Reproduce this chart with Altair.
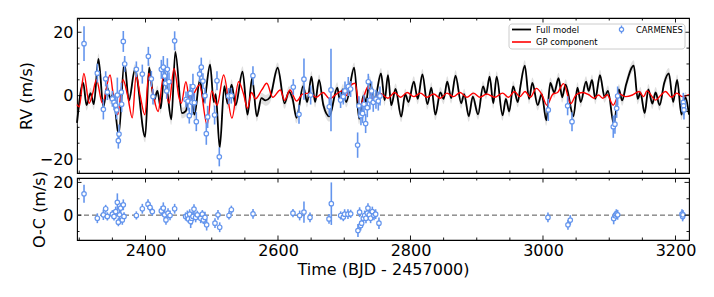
import altair as alt
import pandas as pd

# ---------------- data ----------------
# Full model (black) – extrema
black_t = [2296.6, 2306, 2311, 2317, 2322, 2329, 2336.5, 2342, 2347, 2351, 2359.5, 2368, 2375, 2384,
           2399.5, 2405.5, 2413, 2418, 2423, 2428.5, 2433, 2439, 2445, 2455, 2461, 2467, 2474, 2482,
           2488, 2497.5, 2503, 2506, 2512, 2519, 2524, 2530, 2536, 2546.5, 2554, 2561, 2568, 2575,
           2581, 2588, 2599.5, 2610, 2616.5, 2622, 2628, 2638, 2644, 2650.5, 2656, 2662, 2668.5,
           2677.5, 2689.5, 2693, 2698, 2703, 2715, 2722.5, 2729, 2733, 2738, 2746, 2755.5, 2761,
           2766, 2771, 2777.5, 2786, 2792, 2797, 2805, 2811, 2818, 2825.5, 2831.5, 2837.5, 2845,
           2850, 2855.5, 2861.5, 2868, 2876.5, 2881, 2888, 2894, 2902, 2909.5, 2914, 2919.5, 2925,
           2930, 2939, 2944, 2949, 2955, 2962, 2966, 2972.5, 2979, 2984, 2992, 2998, 3005, 3011,
           3017, 3023.5, 3029, 3034, 3046, 3052, 3057, 3065, 3069, 3074, 3079, 3086, 3093, 3098,
           3107, 3114.5, 3119.5, 3125.5, 3137, 3143, 3147, 3153.5, 3159, 3165, 3170, 3176, 3183,
           3190, 3196.5, 3202.5, 3209, 3215, 3220.4]
black_v = [-8.6, 4.0, -3.0, 0.8, -2.7, 11.6, -3.5, 2.6, -1.0, 0.5, -12.5, 10.5, -1.5, 8.2,
           -13.0, 8.8, -1.5, 1.5, -4.0, 7.5, 1.0, -7.5, 13.8, -5.5, -4.8, 1.5, -6.0, 5.0,
           -2.0, 9.8, -2.0, 0.5, -16.4, 3.0, -2.5, 3.5, -3.0, 7.6, -6.0, 5.5, -6.5, -0.8,
           -1.5, -0.5, 8.8, -2.4, 1.3, -1.0, -7.0, 3.0, -2.0, 6.0, -2.0, 5.0, -3.0,
           -6.5, 2.5, -1.0, 2.0, -2.0, 8.8, -7.3, 0.0, -2.0, 4.5, -1.0, 7.0, -1.5,
           6.5, -3.0, 2.1, -6.6, 0.5, -2.0, 4.4, -1.0, 6.7, -2.7, 2.5, -6.0, 1.0,
           -1.0, 4.4, -0.8, 6.3, -2.4, 0.5, -6.5, -0.3, -5.9, 2.9, 0.5, 6.0, -2.4,
           6.0, -6.2, -1.0, -5.0, 2.9, -2.0, 3.0, 9.5, -1.0, 4.0, -3.0, 0.5, -7.8, 4.0,
           1.0, 5.5, -0.5, 3.5, -6.5, 2.5, -2.0, 4.4, 1.5, 5.0, -1.0, 6.5, -0.5, 1.5,
           -9.0, 2.0, -1.5, 3.5, 9.5, -1.0, 1.0, -5.5, 2.0, -2.5, 1.0, -3.0, 4.0,
           7.0, -2.0, 5.0, -6.0, -0.5, -6.0]
band_half = 1.7  # half width of the grey uncertainty band (m/s)

# GP component (red)
red_t = [2296.6, 2300, 2307, 2315, 2320, 2326, 2335, 2346.5, 2352, 2358, 2366, 2373, 2380, 2386,
         2392, 2399, 2405, 2411, 2419, 2427, 2435.5, 2443, 2451, 2454, 2461, 2467, 2474, 2481.5,
         2493, 2500, 2508, 2518, 2530.5, 2540.5, 2548, 2554, 2560, 2566, 2575.5, 2583, 2592,
         2603.5, 2610, 2618, 2628, 2637, 2648, 2658, 2668, 2678, 2688, 2697, 2703, 2708.5, 2716,
         2723.5, 2730, 2736, 2744, 2754, 2766, 2776, 2785, 2795, 2805, 2815, 2825, 2835, 2845,
         2855, 2865, 2875, 2885, 2895, 2905, 2915, 2927, 2939, 2948, 2957, 2965, 2973, 2981,
         2990, 2998, 3006, 3015, 3022, 3031, 3042, 3050, 3060, 3069, 3077, 3084, 3090, 3097,
         3106, 3115, 3125, 3135, 3145, 3152, 3157, 3170, 3177, 3185, 3194, 3202, 3210, 3220.4]
red_v = [-2.8, -3.5, 7.0, -2.4, 0.5, 5.0, -2.4, 6.5, -1.0, -6.0, 5.0, 0.0, -7.0, 6.5,
         0.0, -6.0, 7.0, 1.0, -5.0, 6.0, -2.4, 8.6, -1.0, -2.4, 4.4, -1.9, 1.0, 3.4,
         -9.3, 1.5, -3.0, 6.5, -7.1, 4.4, 0.5, -4.0, 1.0, -1.0, 1.8, 3.9, -0.5,
         1.8, -1.5, 1.8, -1.7, 0.5, 0.8, -0.5, 1.0, -1.0, 0.5, 1.5, 0.0, 2.9, 3.9,
         -3.5, 0.0, 2.9, -1.5, 0.8, -0.8, 1.0, -0.5, 1.0, -0.3, 0.8, -0.5, 0.5, -0.8,
         0.8, -0.3, 1.0, -0.5, 0.8, -0.5, 0.5, -0.5, 0.8, -0.5, 1.3, -0.3, 1.3, -0.5,
         2.3, 0.5, -3.0, 0.5, 1.0, 3.8, -2.5, 0.3, 1.0, 0.3, -0.8, 0.2, -0.8, 0.3,
         -3.0, 0.5, -0.3, 0.2, 1.3, -0.3, 1.5, -1.4, 0.0, 1.3, -0.5, 0.8, -0.3, 0.3]

# CARMENES RVs (top panel)
rv_t = [2307.2, 2327.3, 2336.4, 2339.9, 2342.4, 2350.0, 2352.5, 2355.0, 2356.5, 2357.5, 2359.0,
        2360.0, 2363.5, 2364.0, 2366.5, 2368.6, 2386.2, 2395.2, 2404.3, 2408.8, 2411.3, 2423.9,
        2426.9, 2428.9, 2430.4, 2432.0, 2433.0, 2435.5, 2444.0, 2461.1, 2464.1, 2466.1, 2467.6,
        2470.1, 2471.6, 2473.7, 2476.7, 2481.7, 2484.2, 2486.7, 2489.8, 2491.8, 2493.8, 2504.3,
        2507.9, 2511.4, 2525.5, 2529.5, 2562.2, 2623.1, 2631.7, 2639.2, 2649.3, 2677.4, 2680.0,
        2694.5, 2698.6, 2701.1, 2706.1, 2709.6, 2720.2, 2722.2, 2725.2, 2727.7, 2729.8, 2732.3,
        2734.8, 2736.3, 2738.8, 2741.3, 2743.8, 2747.9, 2751.4, 2753.9, 3008.0, 3037.2, 3043.8,
        3106.1, 3108.6, 3111.2, 3112.7, 3211.8, 3212.3, 3212.8]
rv_v = [16.4, 7.1, -4.3, 5.3, 1.1, -1.0, -2.1, -3.0, -4.5, 0.2, -14.2,
        -12.1, 1.1, -2.7, 17.1, 10.0, 8.3, 6.8, 12.4, 5.3, -0.3, 8.3,
        9.0, 6.2, 3.9, 1.5, 8.3, 4.4, 17.3, -1.2, -1.7, -6.3, 0.7,
        -2.1, 2.9, -2.2, -8.2, 6.8, 9.0, 4.6, 0.0, -12.0, -6.7, -6.1,
        4.7, -19.3, -0.1, 0.0, 6.3, 2.7, -5.9, 5.2, 0.2, -3.5, 1.8,
        -1.4, -0.3, 1.5, 2.9, 2.1, -15.6, -3.2, -6.3, -5.6, -2.7, -8.8,
        -3.8, 4.4, -1.4, 1.5, -2.1, -1.1, -1.7, -0.1, -4.5, -3.2, -8.2,
        -9.8, -9.0, -4.0, -0.1, -2.1, -3.2, -4.5]
rv_e = [5.5, 3.0, 3.2, 2.4, 2.5, 2.5, 2.5, 3.0, 3.0, 5.5, 2.5,
        3.0, 3.0, 2.5, 3.3, 2.5, 2.5, 3.0, 3.0, 2.5, 2.5, 3.0,
        3.5, 3.0, 3.0, 2.5, 3.5, 3.0, 3.0, 2.5, 3.0, 2.5, 3.0,
        4.0, 4.0, 3.0, 3.0, 2.5, 3.0, 2.5, 2.5, 3.5, 3.5, 3.0,
        3.0, 3.0, 2.5, 2.5, 3.0, 2.5, 3.0, 6.5, 3.0, 3.0, 13.0,
        2.5, 2.5, 3.0, 3.0, 2.5, 4.0, 3.0, 3.0, 3.0, 3.0, 3.0,
        3.0, 2.5, 3.0, 3.0, 3.0, 3.0, 3.0, 3.0, 3.5, 3.0, 3.0,
        3.5, 3.0, 3.0, 3.0, 3.0, 3.0, 3.0]

# Residuals O-C (bottom panel)
res_t = [2307.2, 2327.3, 2336.4, 2339.9, 2342.4, 2350.0, 2352.5, 2355.0, 2357.5, 2359.0, 2361.0,
         2362.5, 2364.0, 2365.0, 2366.5, 2367.6, 2386.2, 2395.2, 2403.8, 2406.8, 2410.3, 2423.9,
         2426.9, 2428.9, 2430.9, 2434.0, 2437.0, 2444.0, 2460.6, 2463.2, 2464.7, 2466.7, 2468.2,
         2469.7, 2471.7, 2473.2, 2475.7, 2478.2, 2483.3, 2485.8, 2487.3, 2489.8, 2492.3, 2504.9,
         2509.4, 2512.0, 2526.0, 2529.6, 2562.3, 2622.6, 2632.7, 2639.2, 2648.3, 2677.0, 2680.5,
         2694.6, 2698.6, 2700.6, 2705.6, 2709.7, 2720.7, 2723.2, 2724.8, 2726.3, 2728.8, 2730.8,
         2732.8, 2734.8, 2735.8, 2737.8, 2739.8, 2742.4, 2744.9, 2747.4, 2752.4, 3007.5, 3037.7,
         3041.2, 3106.7, 3109.2, 3110.7, 3112.7, 3209.8, 3210.8, 3211.3]
res_v = [13.0, -1.9, 0.2, 3.9, -0.8, 0.6, -0.8, 2.2, 7.8, -4.3, 0.2,
         4.3, -1.9, -2.9, 6.3, -0.8, -0.2, 3.9, 6.7, 4.7, 2.2, 2.6,
         4.3, 0.2, -2.9, 1.2, -0.2, 3.9, -0.8, -0.2, -2.3, 0.6, -3.9,
         -1.9, -0.8, 3.7, -1.4, 0.2, -1.9, 0.6, -2.9, -1.4, -5.9, -4.9,
         0.2, -7.4, -0.2, 3.3, 0.8, 1.2, -0.2, 1.9, -1.4, -2.3, 7.0,
         -0.2, -1.2, 0.6, 0.6, 0.8, -9.4, 1.8, -6.4, -4.9, -1.9, -0.2,
         -1.9, 1.2, 4.3, 0.2, -1.9, 2.2, -0.2, 0.6, -4.9, -1.4, -5.9,
         -3.0, -2.1, -0.4, 0.6, 0.2, 0.6, -0.8, 0.2]
res_e = [5.5, 3.0, 3.2, 2.4, 2.5, 2.5, 2.5, 3.0, 5.5, 2.5, 3.0,
         3.0, 2.5, 3.0, 3.3, 2.5, 2.5, 3.0, 3.0, 2.5, 2.5, 3.0,
         3.5, 3.0, 3.0, 3.0, 3.0, 3.0, 2.5, 3.0, 2.5, 3.0, 4.0,
         4.0, 3.0, 3.0, 3.0, 2.5, 3.0, 2.5, 2.5, 3.5, 3.5, 3.0,
         3.0, 3.0, 2.5, 2.5, 3.0, 2.5, 3.0, 6.5, 3.0, 3.0, 13.0,
         2.5, 2.5, 3.0, 3.0, 2.5, 4.0, 3.0, 3.0, 3.0, 3.0, 3.0,
         3.0, 2.5, 3.0, 3.0, 3.0, 3.0, 3.0, 3.0, 3.5, 3.0, 3.0,
         3.0, 3.5, 3.0, 3.0, 3.0, 3.0, 3.0, 3.0]

# axis tick values
x_major = [2400, 2600, 2800, 3000, 3200]
x_minor = [2300, 2350, 2450, 2500, 2550, 2650, 2700, 2750, 2850, 2900, 2950, 3050, 3100, 3150]
y1_major = [-20, 0, 20]
y1_minor = [-15, -10, -5, 5, 10, 15]
y2_major = [0, 20]
y2_minor = [-10, 10]
legend_labels = ["Full model", "GP component", "CARMENES"]

# ---------------- styles / layout ----------------
W, H1, H2 = 612, 155, 62
BLUE = "#6495ED"
FONT = "DejaVu Sans"
MAJ, MIN = 4.5, 2.5

xs = alt.Scale(domain=[2296.6, 3220.4], nice=False, zero=False)
ys1 = alt.Scale(domain=[-24.4, 24.5], nice=False, zero=False)
ys2 = alt.Scale(domain=[-15.2, 22.7], nice=False, zero=False)

# one axis spec per panel/channel, used by every layer so that merging keeps it
AX_X1 = None
AX_Y1 = alt.Axis(values=y1_major, title="RV (m/s)", labelPadding=4, titlePadding=5)
AX_X2 = alt.Axis(values=x_major, format="d", title="Time (BJD - 2457000)", labelPadding=2, titlePadding=3)
AX_Y2 = alt.Axis(values=y2_major, title="O-C (m/s)", labelPadding=4, titlePadding=5)

model_df = pd.DataFrame({"t": black_t, "v": black_v})
model_df["lo"] = model_df["v"] - band_half
model_df["hi"] = model_df["v"] + band_half
gp_df = pd.DataFrame({"t": red_t, "v": red_v})
rv_df = pd.DataFrame({"t": rv_t, "v": rv_v, "e": rv_e})
rv_df["lo"] = rv_df["v"] - rv_df["e"]
rv_df["hi"] = rv_df["v"] + rv_df["e"]
res_df = pd.DataFrame({"t": res_t, "v": res_v, "e": res_e})
res_df["lo"] = res_df["v"] - res_df["e"]
res_df["hi"] = res_df["v"] + res_df["e"]


def tick_layers(xax, yax, yscale, ymaj, ymin, h):
    layers = []
    for vals, L in ((x_major, MAJ), (x_minor, MIN)):
        d = pd.DataFrame({"t": vals})
        base = alt.Chart(d).mark_rule(color="black", strokeWidth=0.9)
        layers.append(base.encode(x=alt.X("t:Q", scale=xs, axis=xax),
                                  y=alt.value(h), y2=alt.value(h - L)))
        layers.append(base.encode(x=alt.X("t:Q", scale=xs, axis=xax),
                                  y=alt.value(0), y2=alt.value(L)))
    for vals, L in ((ymaj, MAJ), (ymin, MIN)):
        d = pd.DataFrame({"v": vals})
        base = alt.Chart(d).mark_rule(color="black", strokeWidth=0.9)
        layers.append(base.encode(y=alt.Y("v:Q", scale=yscale, axis=yax),
                                  x=alt.value(0), x2=alt.value(L)))
        layers.append(base.encode(y=alt.Y("v:Q", scale=yscale, axis=yax),
                                  x=alt.value(W), x2=alt.value(W - L)))
    return layers


def X1(f="t"):
    return alt.X(f + ":Q", scale=xs, axis=AX_X1)


def Y1(f):
    return alt.Y(f + ":Q", scale=ys1, axis=AX_Y1)


def X2(f="t"):
    return alt.X(f + ":Q", scale=xs, axis=AX_X2)


def Y2(f):
    return alt.Y(f + ":Q", scale=ys2, axis=AX_Y2)


# ---------------- top panel ----------------
band = alt.Chart(model_df).mark_area(color="#d6d6d6", opacity=0.75, interpolate="monotone").encode(
    x=X1(), y=Y1("lo"), y2="hi:Q")
black_line = alt.Chart(model_df).mark_line(color="black", strokeWidth=1.8, interpolate="monotone").encode(
    x=X1(), y=Y1("v"))
red_line = alt.Chart(gp_df).mark_line(color="red", strokeWidth=1.4, interpolate="monotone").encode(
    x=X1(), y=Y1("v"))
rv_err = alt.Chart(rv_df).mark_rule(color=BLUE, strokeWidth=1.6).encode(
    x=X1(), y=Y1("lo"), y2="hi:Q")
rv_pts = alt.Chart(rv_df).mark_circle(fill="white", stroke=BLUE, strokeWidth=1.2, size=20, opacity=1).encode(
    x=X1(), y=Y1("v"))

# legend (drawn inside the top panel, upper right)
one = pd.DataFrame({"k": [0]})
leg_box = alt.Chart(one).mark_rect(fill="white", stroke="#cccccc", strokeWidth=1, cornerRadius=3).encode(
    x=alt.value(432), x2=alt.value(608), y=alt.value(6), y2=alt.value(31))
leg_black = alt.Chart(one).mark_rule(color="black", strokeWidth=1.8).encode(
    x=alt.value(435), x2=alt.value(454), y=alt.value(11.5))
leg_red = alt.Chart(one).mark_rule(color="red", strokeWidth=1.6).encode(
    x=alt.value(435), x2=alt.value(454), y=alt.value(24))
leg_bar = alt.Chart(one).mark_rule(color=BLUE, strokeWidth=1.4).encode(
    x=alt.value(544.5), y=alt.value(7.5), y2=alt.value(15.5))
leg_pt = alt.Chart(one).mark_circle(fill="white", stroke=BLUE, strokeWidth=1.2, size=18, opacity=1).encode(
    x=alt.value(544.5), y=alt.value(11.5))
leg_txt = []
for lab, xx, yy in ((legend_labels[0], 459, 11.5), (legend_labels[1], 459, 24), (legend_labels[2], 559, 11.5)):
    leg_txt.append(alt.Chart(one).mark_text(align="left", baseline="middle", font=FONT, fontSize=8.4,
                                            color="black").encode(
        x=alt.value(xx), y=alt.value(yy), text=alt.value(lab)))

top = alt.layer(band, black_line, red_line, rv_err, rv_pts,
                *tick_layers(AX_X1, AX_Y1, ys1, y1_major, y1_minor, H1),
                leg_box, leg_black, leg_red, leg_bar, leg_pt, *leg_txt).properties(width=W, height=H1)

# ---------------- bottom panel ----------------
zero_df = pd.DataFrame({"v": [0]})
zero_line = alt.Chart(zero_df).mark_rule(color="#555555", strokeDash=[5, 3], strokeWidth=1).encode(
    y=Y2("v"))
res_err = alt.Chart(res_df).mark_rule(color=BLUE, strokeWidth=1.6).encode(
    x=X2(), y=Y2("lo"), y2="hi:Q")
res_pts = alt.Chart(res_df).mark_circle(fill="white", stroke=BLUE, strokeWidth=1.2, size=20, opacity=1).encode(
    x=X2(), y=Y2("v"))

bottom = alt.layer(zero_line, res_err, res_pts,
                   *tick_layers(AX_X2, AX_Y2, ys2, y2_major, y2_minor, H2)).properties(width=W, height=H2)

chart = alt.vconcat(top, bottom, spacing=5, bounds="flush").properties(
    padding={"left": 9, "top": 9, "right": 5, "bottom": 5},
    background="white",
).configure_view(stroke="black", strokeWidth=1.1).configure_axis(
    grid=False, domain=False, ticks=False,
    labelFont=FONT, titleFont=FONT, labelFontSize=16, titleFontSize=16,
    titleFontWeight="normal", labelColor="black", titleColor="black",
)

chart.save("out.html", embed_options={"renderer": "svg", "actions": False})
